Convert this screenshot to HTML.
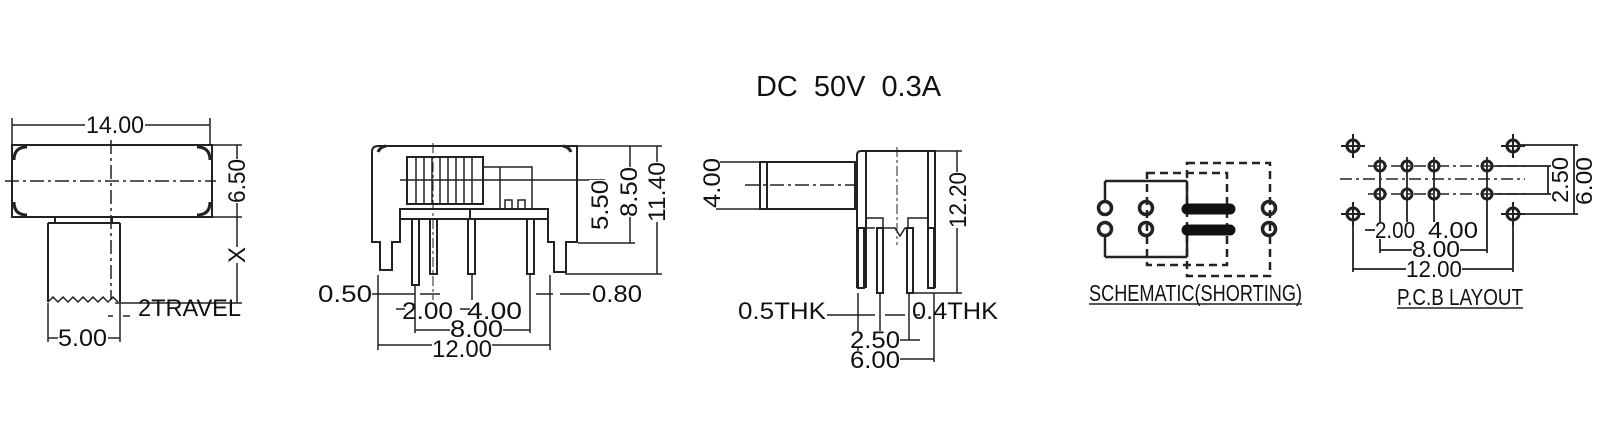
<!DOCTYPE html>
<html><head><meta charset="utf-8"><style>
html,body{margin:0;padding:0;background:#fff;}
svg{display:block;}
text{font-family:"Liberation Sans",sans-serif;fill:#111;}
</style></head><body>
<svg width="1606" height="437" viewBox="0 0 1606 437" xmlns="http://www.w3.org/2000/svg">
<g stroke="#222" stroke-width="2" fill="none">
<!-- VIEW 1 -->
<rect x="12" y="145" width="200" height="72"/>
<path d="M14 160 Q14 147 27 147 M14 202 Q14 215 27 215 M210 160 Q210 147 197 147 M210 202 Q210 215 197 215" stroke-width="3"/>
<path d="M12 118V145 M210 118V145 M12 125H210" stroke-width="1.5"/>
<path d="M5 181H216" stroke-dasharray="14,4,3,4" stroke-width="1.5"/>
<path d="M111 140V300 " stroke-dasharray="14,4,3,4" stroke-width="1.5"/>
<path d="M55 217V223 M112 217V223 M48 223H120 M48 223V302 M120 223V302"/>
<path d="M48 302 l5 -5 l5 5 l5 -5 l5 5 l5 -5 l5 5 l5 -5 l5 5 l5 -5 l5 5 l5 -5 l5 5 l5 -5 l5 5" stroke-width="1.5"/>
<path d="M212 145H242 M212 217H242 M115 303H242 M237 145V303" stroke-width="1.5"/>
<path d="M48 303V342 M120 303V342 M48 338H120 M108 316H113 M123 316H130" stroke-width="1.5"/>
<!-- VIEW 2 -->
<path d="M372 242V152 Q372 146 378 146H577V242H566V272H554V242H548V219H400V242H392V270H380V242Z"/>
<path d="M378 152 Q380 147 386 146 M571 152 Q569 147 563 146" stroke-width="3"/>
<rect x="400" y="209" width="148" height="10"/>
<rect x="407" y="157" width="76" height="47"/>
<path d="M416 157V204 M424 157V204 M432 157V204 M440 157V204 M448 157V204 M456 157V204 M464 157V204 M472 157V204" stroke-width="1.5"/>
<path d="M483 167H532V209 M500 167V209 M505 209V200H512V209 M518 209V200H525V209" stroke-width="1.5"/>
<path d="M470 219V209" />
<g stroke-width="2"><rect x="412" y="219" width="7" height="66"/><rect x="430" y="219" width="7" height="55"/><rect x="468" y="219" width="7" height="55"/><rect x="527" y="219" width="7" height="55"/></g>
<path d="M400 180H605 M577 146H662 M578 243H635 M565 274H662 M630 146V243 M657 146V274" stroke-width="1.5"/>
<path d="M433 143V300" stroke-dasharray="10,3,3,3" stroke-width="1"/>
<path d="M378 275V350 M550 275V350 M378 345H550 M415 285V333 M530 275V333 M415 330H530 M372 294H415 M420 294H440 M536 294H553 M560 294H590 M396 309H405 M460 309H470 M472 274V300" stroke-width="1.5"/>
<!-- VIEW 3 -->
<path d="M760 162H855V209H760Z M767 162V209"/>
<path d="M855 170V205 M735 162H760 M735 209H760 M716 162H735 M716 209H735" stroke-width="1.5"/>
<path d="M745 185H855" stroke-dasharray="14,4,3,4" stroke-width="1.5"/>
<path d="M857 288V155 Q857 151 861 151H935V288 M866 151V288 M928 151V288"/>
<path d="M866 218H883V228H895 L900 236 L905 228H908V218H928 M866 228H875" stroke-width="1.5"/>
<path d="M897 147V245" stroke-dasharray="10,3,3,3" stroke-width="1"/>
<g stroke-width="2"><rect x="877" y="228" width="6" height="65"/><rect x="907" y="228" width="6" height="65"/><rect x="858" y="228" width="6" height="60"/><rect x="928" y="228" width="6" height="60"/></g>
<path d="M935 151H962 M912 293H962 M957 151V293" stroke-width="1.5"/>
<path d="M858 293V362 M934 293V362 M880 293V340 M909 293V340 M858 359H934 M870 340H920 M827 315H875 M885 315H905 M915 315H920" stroke-width="1.5"/>
<!-- SCHEMATIC -->
<path d="M1147 173H1227V265H1147Z M1187 163H1270V276H1187Z" stroke-dasharray="8,5" stroke-width="2.5"/>
<path d="M1105 181H1187 M1105 181V201 M1105 257H1187 M1105 257V236 M1187 181V204 M1187 235V257" stroke-width="2.5"/>
<g stroke-width="3.5"><circle cx="1105" cy="208" r="6.5"/><circle cx="1146" cy="208" r="6.5"/><circle cx="1269" cy="208" r="6.5"/><circle cx="1105" cy="229" r="6.5"/><circle cx="1146" cy="229" r="6.5"/><circle cx="1269" cy="229" r="6.5"/></g>
<path d="M1187 209H1230 M1187 230H1230" stroke-width="11" stroke-linecap="round" stroke="#111"/>
<!-- PCB -->
<path d="M1340 179H1525" stroke-dasharray="12,4,3,4" stroke-width="1.5"/>
<path d="M1368 166H1530 M1368 194H1530" stroke-dasharray="12,4,3,4" stroke-width="1.5"/>
<g stroke-width="3"><circle cx="1353" cy="146" r="6"/><circle cx="1513" cy="146" r="6"/><circle cx="1353" cy="214" r="6"/><circle cx="1513" cy="214" r="6"/></g>
<path d="M1353 134V158 M1341 146H1365 M1513 134V158 M1501 146H1525 M1353 202V226 M1341 214H1365 M1513 202V226 M1501 214H1525" stroke-width="2"/>
<g stroke-width="3"><circle cx="1380" cy="166" r="5"/><circle cx="1407" cy="166" r="5"/><circle cx="1434" cy="166" r="5"/><circle cx="1487" cy="166" r="5"/><circle cx="1380" cy="194" r="5"/><circle cx="1407" cy="194" r="5"/><circle cx="1434" cy="194" r="5"/><circle cx="1487" cy="194" r="5"/></g>
<path d="M1380 157V253 M1407 157V222 M1434 157V230 M1487 157V253 M1353 214V272 M1513 214V272 M1353 269H1513 M1380 250H1487 M1365 230H1378" stroke-width="1.8"/>
<path d="M1520 145H1578 M1495 166H1552 M1495 194H1552 M1520 214H1578 M1548 166V194 M1574 145V214" stroke-width="1.8"/>
</g>
<!-- TEXT -->
<text x="756" y="96" font-size="29" textLength="185" lengthAdjust="spacingAndGlyphs" xml:space="preserve">DC  50V  0.3A</text>
<g font-size="24">
<rect x="85" y="114" width="60" height="22" fill="#fff"/>
<text x="86" y="133" textLength="58" lengthAdjust="spacingAndGlyphs">14.00</text>
<g transform="translate(245,181) rotate(-90)"><rect x="-22" y="-17" width="44" height="15" fill="#fff"/><text x="-22" y="0" textLength="44" lengthAdjust="spacingAndGlyphs">6.50</text></g>
<g transform="translate(245,255) rotate(-90)"><rect x="-8" y="-17" width="16" height="15" fill="#fff"/><text x="-8" y="0">X</text></g>
<text x="138" y="316" textLength="103" lengthAdjust="spacingAndGlyphs">2TRAVEL</text>
<rect x="58" y="326" width="50" height="20" fill="#fff"/>
<text x="58" y="346" textLength="49" lengthAdjust="spacingAndGlyphs">5.00</text>
<text x="318" y="302" textLength="54" lengthAdjust="spacingAndGlyphs">0.50</text>
<text x="592" y="302" textLength="50" lengthAdjust="spacingAndGlyphs">0.80</text>
<text x="402" y="319" textLength="51" lengthAdjust="spacingAndGlyphs">2.00</text>
<text x="467" y="319" textLength="55" lengthAdjust="spacingAndGlyphs">4.00</text>
<rect x="450" y="320" width="53" height="17" fill="#fff"/>
<text x="450" y="337" textLength="53" lengthAdjust="spacingAndGlyphs">8.00</text>
<rect x="432" y="340" width="60" height="17" fill="#fff"/>
<text x="432" y="357" textLength="60" lengthAdjust="spacingAndGlyphs">12.00</text>
<g transform="translate(608,205) rotate(-90)"><rect x="-25" y="-19" width="50" height="19" fill="#fff"/><text x="-25" y="0" textLength="50" lengthAdjust="spacingAndGlyphs">5.50</text></g>
<g transform="translate(637,192) rotate(-90)"><rect x="-25" y="-19" width="50" height="19" fill="#fff"/><text x="-25" y="0" textLength="50" lengthAdjust="spacingAndGlyphs">8.50</text></g>
<g transform="translate(665,192) rotate(-90)"><rect x="-30" y="-19" width="60" height="19" fill="#fff"/><text x="-30" y="0" textLength="60" lengthAdjust="spacingAndGlyphs">11.40</text></g>
<g transform="translate(720,183) rotate(-90)"><rect x="-25" y="-19" width="50" height="19" fill="#fff"/><text x="-25" y="0" textLength="50" lengthAdjust="spacingAndGlyphs">4.00</text></g>
<g transform="translate(966,200) rotate(-90)"><rect x="-28" y="-19" width="56" height="19" fill="#fff"/><text x="-28" y="0" textLength="56" lengthAdjust="spacingAndGlyphs">12.20</text></g>
<text x="738" y="319" textLength="88" lengthAdjust="spacingAndGlyphs">0.5THK</text>
<text x="912" y="319" textLength="86" lengthAdjust="spacingAndGlyphs">0.4THK</text>
<rect x="850" y="331" width="50" height="17" fill="#fff"/>
<text x="850" y="348" textLength="50" lengthAdjust="spacingAndGlyphs">2.50</text>
<rect x="850" y="351" width="50" height="17" fill="#fff"/>
<text x="850" y="368" textLength="50" lengthAdjust="spacingAndGlyphs">6.00</text>
</g>
<g font-size="23">
<rect x="1375" y="222" width="40" height="17" fill="#fff"/>
<text x="1375" y="238" textLength="40" lengthAdjust="spacingAndGlyphs">2.00</text>
<rect x="1428" y="222" width="52" height="17" fill="#fff"/>
<text x="1428" y="238" textLength="50" lengthAdjust="spacingAndGlyphs">4.00</text>
<rect x="1412" y="241" width="48" height="17" fill="#fff"/>
<text x="1412" y="257" textLength="48" lengthAdjust="spacingAndGlyphs">8.00</text>
<rect x="1406" y="261" width="56" height="17" fill="#fff"/>
<text x="1406" y="277" textLength="56" lengthAdjust="spacingAndGlyphs">12.00</text>
<g transform="translate(1568,180) rotate(-90)"><rect x="-23" y="-17" width="46" height="17" fill="#fff"/><text x="-23" y="0" textLength="46" lengthAdjust="spacingAndGlyphs">2.50</text></g>
<g transform="translate(1592,181) rotate(-90)"><rect x="-24" y="-17" width="48" height="17" fill="#fff"/><text x="-24" y="0" textLength="48" lengthAdjust="spacingAndGlyphs">6.00</text></g>
</g>
<g font-size="23">
<text x="1089" y="301" textLength="213" lengthAdjust="spacingAndGlyphs">SCHEMATIC(SHORTING)</text>
<text x="1397" y="305" textLength="126" lengthAdjust="spacingAndGlyphs">P.C.B LAYOUT</text>
</g>
<path d="M1089 304H1302 M1397 308H1523" stroke="#222" stroke-width="1.5"/>
</svg>
</body></html>
